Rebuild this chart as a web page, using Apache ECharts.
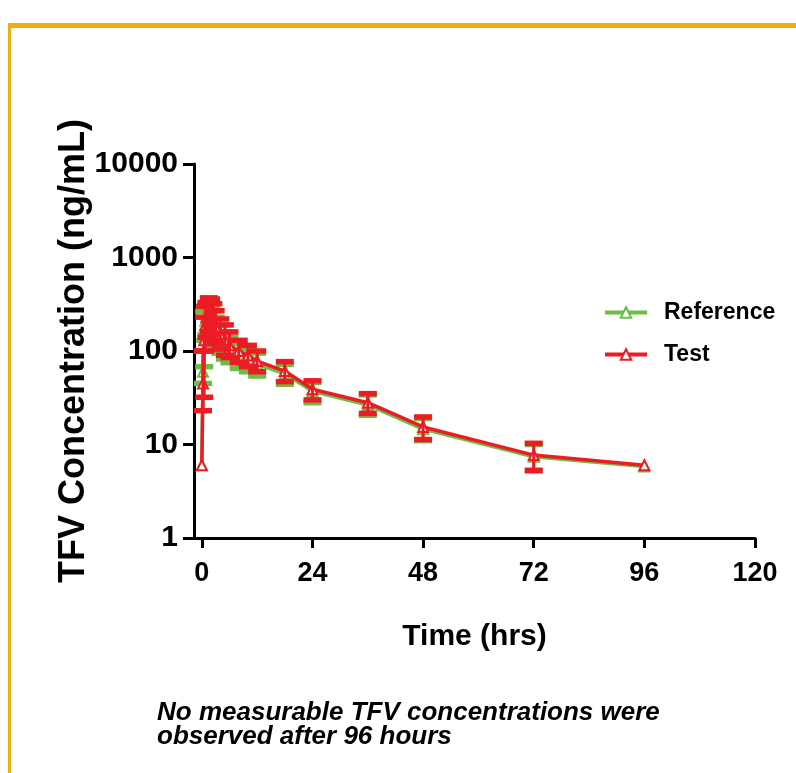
<!DOCTYPE html>
<html>
<head>
<meta charset="utf-8">
<script src="https://cdn.jsdelivr.net/npm/echarts@6/dist/echarts.min.js"></script>
<style>
html,body{margin:0;padding:0;background:#fff;}
#main{width:796px;height:773px;}
</style>
</head>
<body>
<div id="main"></div>
<script type="text/javascript">
// sampling times (hrs)
var times = [0, 0.25, 0.5, 0.75, 1, 1.5, 2, 2.5, 3, 4, 5, 6, 8, 10, 12, 18, 24, 36, 48, 72, 96];
// Reference formulation, mean and error bar ends (ng/mL)
var refMean  = [6, 60, 150, 210, 240, 230, 210, 190, 165, 135, 118, 105, 92, 82, 72, 57, 37, 26.5, 14.6, 7.4, 5.8];
var refUpper = [6, 100, 265, 300, 320, 320, 300, 270, 230, 190, 160, 140, 120, 105, 95, 72, 46, 34, 19, 10, 5.8];
var refLower = [6, 45, 68, 130, 150, 150, 140, 120, 110, 95, 82, 75, 65, 60, 54, 44, 28, 20.5, 11, 5.2, 5.8];
// Test formulation
var testMean  = [6, 45, 130, 190, 230, 250, 240, 210, 180, 150, 130, 115, 100, 90, 78, 61, 39, 28, 15.4, 7.7, 6.0];
var testUpper = [6, 100, 230, 300, 330, 370, 360, 320, 270, 220, 190, 160, 130, 115, 100, 77, 48, 35, 19.7, 10.3, 6.0];
var testLower = [6, 23, 32, 100, 140, 160, 150, 130, 120, 105, 90, 85, 75, 68, 60, 47, 30, 21.5, 11.3, 5.3, 6.0];
var xTicks = [0, 24, 48, 72, 96, 120];

var green = '#6CBE45';
var red = '#EC1C24';
var font = '"Liberation Sans", Arial, sans-serif';

function pairs(xs, ys) {
    var out = [];
    for (var i = 0; i < xs.length; i++) out.push([xs[i], ys[i]]);
    return out;
}
function triples(xs, lo, hi) {
    var out = [];
    for (var i = 0; i < xs.length; i++) out.push([xs[i], lo[i], hi[i]]);
    return out;
}

// draws a capped error bar for each point
function errorBar(color) {
    return function (params, api) {
        var t = api.value(0);
        var lo = api.coord([t, api.value(1)]);
        var hi = api.coord([t, api.value(2)]);
        if (Math.abs(lo[1] - hi[1]) < 1) return null;
        var w = 9;
        return {
            type: 'group',
            children: [
                {type: 'line', shape: {x1: lo[0], y1: lo[1], x2: hi[0], y2: hi[1]}, style: {stroke: color, lineWidth: 3}},
                {type: 'line', shape: {x1: lo[0] - w, y1: lo[1], x2: lo[0] + w, y2: lo[1]}, style: {stroke: color, lineWidth: 5.5}},
                {type: 'line', shape: {x1: hi[0] - w, y1: hi[1], x2: hi[0] + w, y2: hi[1]}, style: {stroke: color, lineWidth: 5.5}}
            ]
        };
    };
}

var chart = echarts.init(document.getElementById('main'));
var option = {
    animation: false,
    backgroundColor: '#fff',
    grid: {left: 194, right: 41, top: 164, bottom: 235},
    legend: {
        orient: 'vertical',
        left: 598,
        top: 296,
        itemWidth: 42,
        itemHeight: 13,
        itemGap: 19,
        lineStyle: {width: 4},
        textStyle: {fontFamily: font, fontWeight: 'bold', fontSize: 23, color: '#000', padding: [0, 0, 0, 12]},
        data: ['Reference', 'Test']
    },
    xAxis: {
        type: 'value',
        min: -1.7,
        max: 120,
        name: 'Time (hrs)',
        nameLocation: 'middle',
        nameGap: 84,
        nameMoveOverlap: false,
        nameTextStyle: {fontFamily: font, fontWeight: 'bold', fontSize: 30, color: '#000'},
        axisLine: {onZero: false, lineStyle: {color: '#000', width: 3}},
        axisTick: {length: 10, lineStyle: {color: '#000', width: 3}, customValues: xTicks},
        axisLabel: {customValues: xTicks, margin: 22, fontFamily: font, fontWeight: 'bold', fontSize: 27, color: '#000'},
        splitLine: {show: false}
    },
    yAxis: {
        type: 'log',
        logBase: 10,
        min: 1,
        max: 10000,
        name: 'TFV Concentration (ng/mL)',
        nameLocation: 'middle',
        nameGap: 102,
        nameMoveOverlap: false,
        nameTextStyle: {fontFamily: font, fontWeight: 'bold', fontSize: 36, color: '#000'},
        axisLine: {show: true, onZero: false, lineStyle: {color: '#000', width: 3}},
        axisTick: {show: true, length: 11, lineStyle: {color: '#000', width: 3}},
        axisLabel: {
            margin: 16, fontFamily: font, fontWeight: 'bold', fontSize: 30, color: '#000',
            formatter: function (v) { return String(Math.round(v)); }
        },
        splitLine: {show: false},
        minorTick: {show: false}
    },
    graphic: [
        {type: 'rect', shape: {x: 8, y: 23, width: 800, height: 5}, style: {fill: '#E9B10E'}},
        {type: 'rect', shape: {x: 8, y: 23, width: 3, height: 760}, style: {fill: '#E9B10E'}},
        {
            type: 'text', left: 157, top: 700,
            style: {
                text: 'No measurable TFV concentrations were\nobserved after 96 hours',
                fontFamily: font, fontWeight: 'bold', fontStyle: 'italic', fontSize: 26, lineHeight: 24, fill: '#000'
            }
        }
    ],
    series: [
        {
            name: 'Reference', type: 'line', data: pairs(times, refMean), z: 2,
            symbol: 'triangle', symbolSize: 10,
            color: green,
            lineStyle: {color: green, width: 3.5},
            itemStyle: {color: '#fff', borderColor: green, borderWidth: 2}
        },
        {
            name: 'Reference SD', type: 'custom', renderItem: errorBar(green),
            encode: {x: 0, y: [1, 2]}, data: triples(times, refLower, refUpper), z: 3, silent: true
        },
        {
            name: 'Test', type: 'line', data: pairs(times, testMean), z: 4,
            symbol: 'triangle', symbolSize: 10,
            color: red,
            lineStyle: {color: red, width: 3.5},
            itemStyle: {color: '#fff', borderColor: red, borderWidth: 2}
        },
        {
            name: 'Test SD', type: 'custom', renderItem: errorBar(red),
            encode: {x: 0, y: [1, 2]}, data: triples(times, testLower, testUpper), z: 5, silent: true
        }
    ]
};
chart.setOption(option);
</script>
</body>
</html>
